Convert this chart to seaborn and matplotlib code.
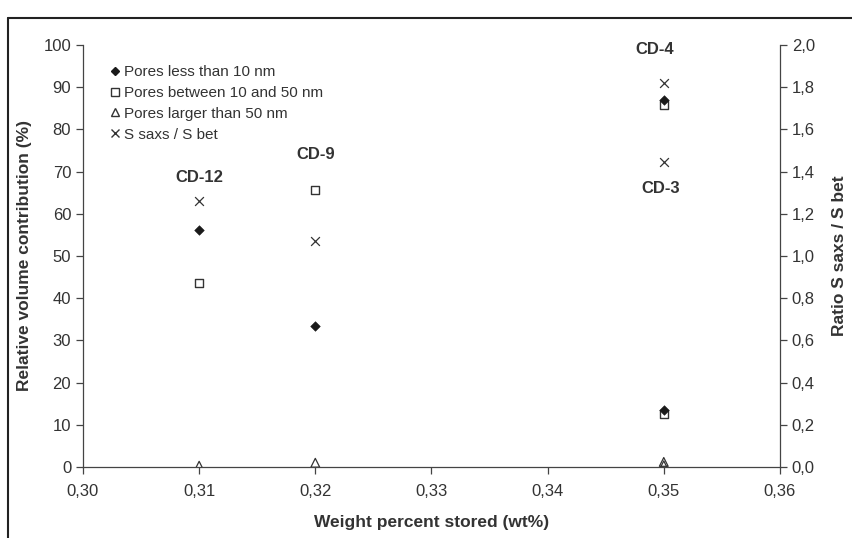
import numpy as np
import pandas as pd
import seaborn as sns
from matplotlib import pyplot as plt
from matplotlib.ticker import FuncFormatter, MultipleLocator
from matplotlib.lines import Line2D

# samples: CD-12, CD-9, CD-4, CD-3
samples = ['CD-12', 'CD-9', 'CD-4', 'CD-3']
wt_stored = [0.31, 0.32, 0.35, 0.35]
pores_lt10 = [56.2, 33.5, 87.0, 13.4]
pores_10_50 = [43.6, 65.7, 85.7, 12.6]
pores_gt50 = [0.3, 1.0, 1.2, 0.4]
ratio_saxs_bet = [1.26, 1.07, 1.82, 1.445]

# where the sample names sit (data coords)
label_y = [68.5, 74.0, 99.0, 66.0]
label_dx = [0.0, 0.0, -0.0008, -0.0003]

sns.set_style('ticks')
plt.rcParams['font.family'] = ['Liberation Sans', 'DejaVu Sans']
txt = '#333333'

df = pd.DataFrame({'wt': wt_stored, 'lt10': pores_lt10, 'mid': pores_10_50,
                   'gt50': pores_gt50, 'ratio': ratio_saxs_bet})

fig = plt.figure(figsize=(8.52, 5.38), dpi=100)
ax = fig.add_axes([0.0974, 0.132, 0.818, 0.7845])
ax2 = ax.twinx()

sns.scatterplot(data=df, x='wt', y='lt10', ax=ax, marker='D', s=24,
                color='#1a1a1a', edgecolor='#1a1a1a', zorder=3)
sns.scatterplot(data=df, x='wt', y='mid', ax=ax, marker='s', s=40,
                facecolor='white', edgecolor='#333333', linewidth=1.0, zorder=2)
sns.scatterplot(data=df, x='wt', y='gt50', ax=ax, marker='^', s=40,
                facecolor='none', edgecolor='#333333', linewidth=0.9, zorder=2)
sns.scatterplot(data=df, x='wt', y='ratio', ax=ax2, marker='x', s=40,
                color='#333333', linewidth=0.9, zorder=3)

ax.set_xlim(0.30, 0.36)
ax.set_ylim(0, 100)
ax2.set_ylim(0, 2.0)
ax.xaxis.set_major_locator(MultipleLocator(0.01))
ax.yaxis.set_major_locator(MultipleLocator(10))
ax2.yaxis.set_major_locator(MultipleLocator(0.2))
ax.xaxis.set_major_formatter(FuncFormatter(lambda v, p: f'{v:.2f}'.replace('.', ',')))
ax.yaxis.set_major_formatter(FuncFormatter(lambda v, p: f'{v:.0f}'))
ax2.yaxis.set_major_formatter(FuncFormatter(lambda v, p: f'{v:.1f}'.replace('.', ',')))

for a in (ax, ax2):
    a.spines['top'].set_visible(False)
    a.tick_params(colors='#444444', labelcolor=txt, labelsize=12, length=5, width=0.9)
    for s in a.spines.values():
        s.set_color('#444444')
        s.set_linewidth(0.9)
ax.spines['right'].set_visible(False)
ax2.spines['left'].set_visible(False)
ax2.spines['bottom'].set_visible(False)
ax.tick_params(axis='x', pad=7)

ax.set_xlabel('Weight percent stored (wt%)', fontsize=12.5, fontweight='bold',
              color=txt, labelpad=12)
ax.set_ylabel('Relative volume contribution (%)', fontsize=12.5, fontweight='bold',
              color=txt, labelpad=8)
ax2.set_ylabel('Ratio S saxs / S bet', fontsize=12.5, fontweight='bold',
               color=txt, labelpad=12)

for name, x, y, dx in zip(samples, wt_stored, label_y, label_dx):
    ax.text(x + dx, y, name, ha='center', va='center', fontsize=12,
            fontweight='bold', color=txt)

handles = [
    Line2D([], [], ls='none', marker='D', ms=4.5, color='#1a1a1a'),
    Line2D([], [], ls='none', marker='s', ms=6, mfc='white', mec='#333333'),
    Line2D([], [], ls='none', marker='^', ms=6, mfc='white', mec='#333333'),
    Line2D([], [], ls='none', marker='x', ms=6, color='#333333'),
]
labels = ['Pores less than 10 nm', 'Pores between 10 and 50 nm',
          'Pores larger than 50 nm', 'S saxs / S bet']
leg = ax.legend(handles, labels, loc='upper left', bbox_to_anchor=(0.02, 0.985),
                frameon=False, fontsize=11, handlelength=0.6,
                handletextpad=0.3, labelspacing=0.45, labelcolor=txt)

# page frame (left and top)
fig.add_artist(Line2D([0.0094, 0.0094], [0, 0.9665], color='#222222', lw=1.5))
fig.add_artist(Line2D([0.0094, 1.0], [0.9665, 0.9665], color='#222222', lw=1.5))

plt.savefig('out.png', dpi=100)
